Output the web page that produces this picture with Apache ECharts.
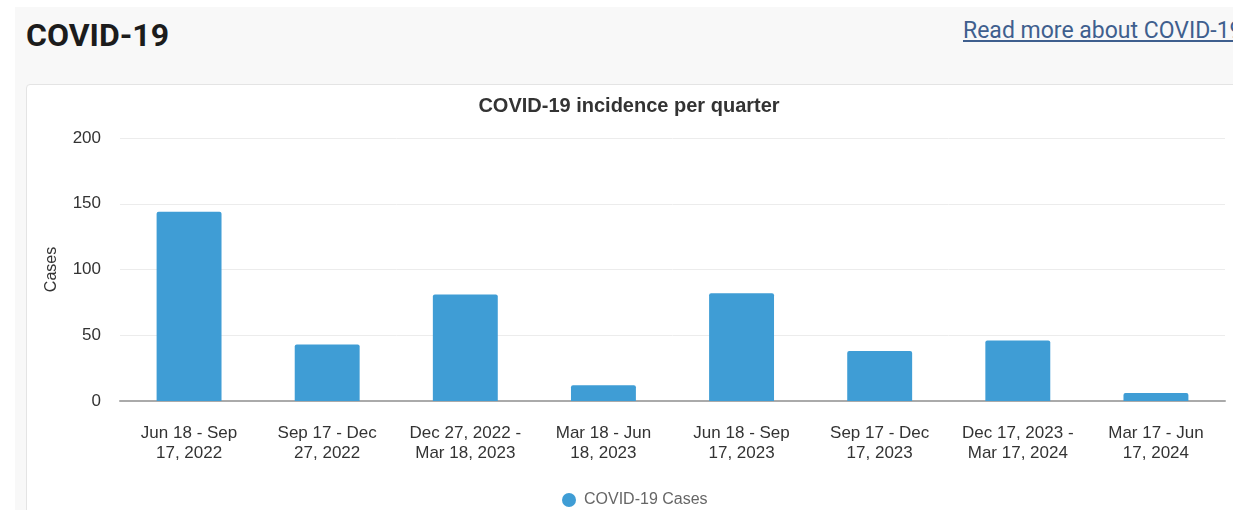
<!DOCTYPE html>
<html>
<head>
<meta charset="utf-8">
<script src="https://cdn.jsdelivr.net/npm/echarts@6/dist/echarts.min.js"></script>
<style>
  html, body { margin: 0; padding: 0; background: #ffffff; width: 1238px; height: 510px; overflow: hidden; }
  #panel { position: absolute; left: 15px; top: 7px; width: 1218px; height: 503px; background: #f8f8f8; overflow: hidden; }
  #heading { position: absolute; left: 11px; top: 9px; font-family: Roboto, "Liberation Sans", sans-serif; font-weight: bold; font-size: 32px; color: #1c1c1c; margin: 0; }
  #more { position: absolute; left: 948px; top: 10px; font-family: Roboto, "Liberation Sans", sans-serif; font-size: 23px; color: #3f5f8e; text-decoration: underline; white-space: nowrap; }
  #card { position: absolute; left: 11px; top: 77px; width: 1215px; height: 440px; background: #ffffff; border: 1px solid #e4e4e4; border-radius: 4px; }
  #chart { position: absolute; left: 26px; top: 84px; width: 1206px; height: 426px; }
</style>
</head>
<body>
<div id="panel">
  <div id="heading">COVID-19</div>
  <a id="more">Read more about COVID-19</a>
  <div id="card"></div>
</div>
<div id="chart"></div>
<script>
const categories = [
  "Jun 18 - Sep\n17, 2022",
  "Sep 17 - Dec\n27, 2022",
  "Dec 27, 2022 -\nMar 18, 2023",
  "Mar 18 - Jun\n18, 2023",
  "Jun 18 - Sep\n17, 2023",
  "Sep 17 - Dec\n17, 2023",
  "Dec 17, 2023 -\nMar 17, 2024",
  "Mar 17 - Jun\n17, 2024"
];
const cases = [144, 43, 81, 12, 82, 38, 46, 6];
const seriesName = "COVID-19 Cases";
const chartTitle = "COVID-19 incidence per quarter";
const yAxisName = "Cases";

const chart = echarts.init(document.getElementById('chart'), null, { renderer: 'canvas' });
const font = '"Liberation Sans", Arial, sans-serif';
chart.setOption({
  animation: false,
  title: {
    text: chartTitle,
    left: 'center',
    top: 7,
    textStyle: { fontFamily: font, fontSize: 20, fontWeight: 'bold', color: '#333333' }
  },
  legend: {
    data: [seriesName],
    left: 531,
    top: 403,
    icon: 'circle',
    itemWidth: 20,
    itemHeight: 14,
    itemGap: 10,
    textStyle: { fontFamily: font, fontSize: 16, color: '#666666' }
  },
  grid: { left: 94, right: 7, top: 54, bottom: 25 + 84, containLabel: false },
  xAxis: {
    type: 'category',
    data: categories,
    axisLine: { lineStyle: { color: '#aaaaaa', width: 2 } },
    axisTick: { show: false },
    axisLabel: { fontFamily: font, fontSize: 17, color: '#333333', lineHeight: 20, margin: 22, interval: 0 }
  },
  yAxis: {
    type: 'value',
    min: 0,
    max: 200,
    interval: 50,
    name: yAxisName,
    nameLocation: 'middle',
    nameGap: 60,
    nameRotate: 90,
    nameTextStyle: { fontFamily: font, fontSize: 16, color: '#333333' },
    axisLine: { show: false },
    axisTick: { show: false },
    splitLine: { lineStyle: { color: '#ececec', width: 1 } },
    axisLabel: { fontFamily: font, fontSize: 17, color: '#333333', margin: 19 }
  },
  series: [{
    name: seriesName,
    type: 'bar',
    data: cases,
    barWidth: '47%',
    itemStyle: { color: '#3f9dd5', borderRadius: [2, 2, 0, 0] }
  }]
});
</script>
</body>
</html>
